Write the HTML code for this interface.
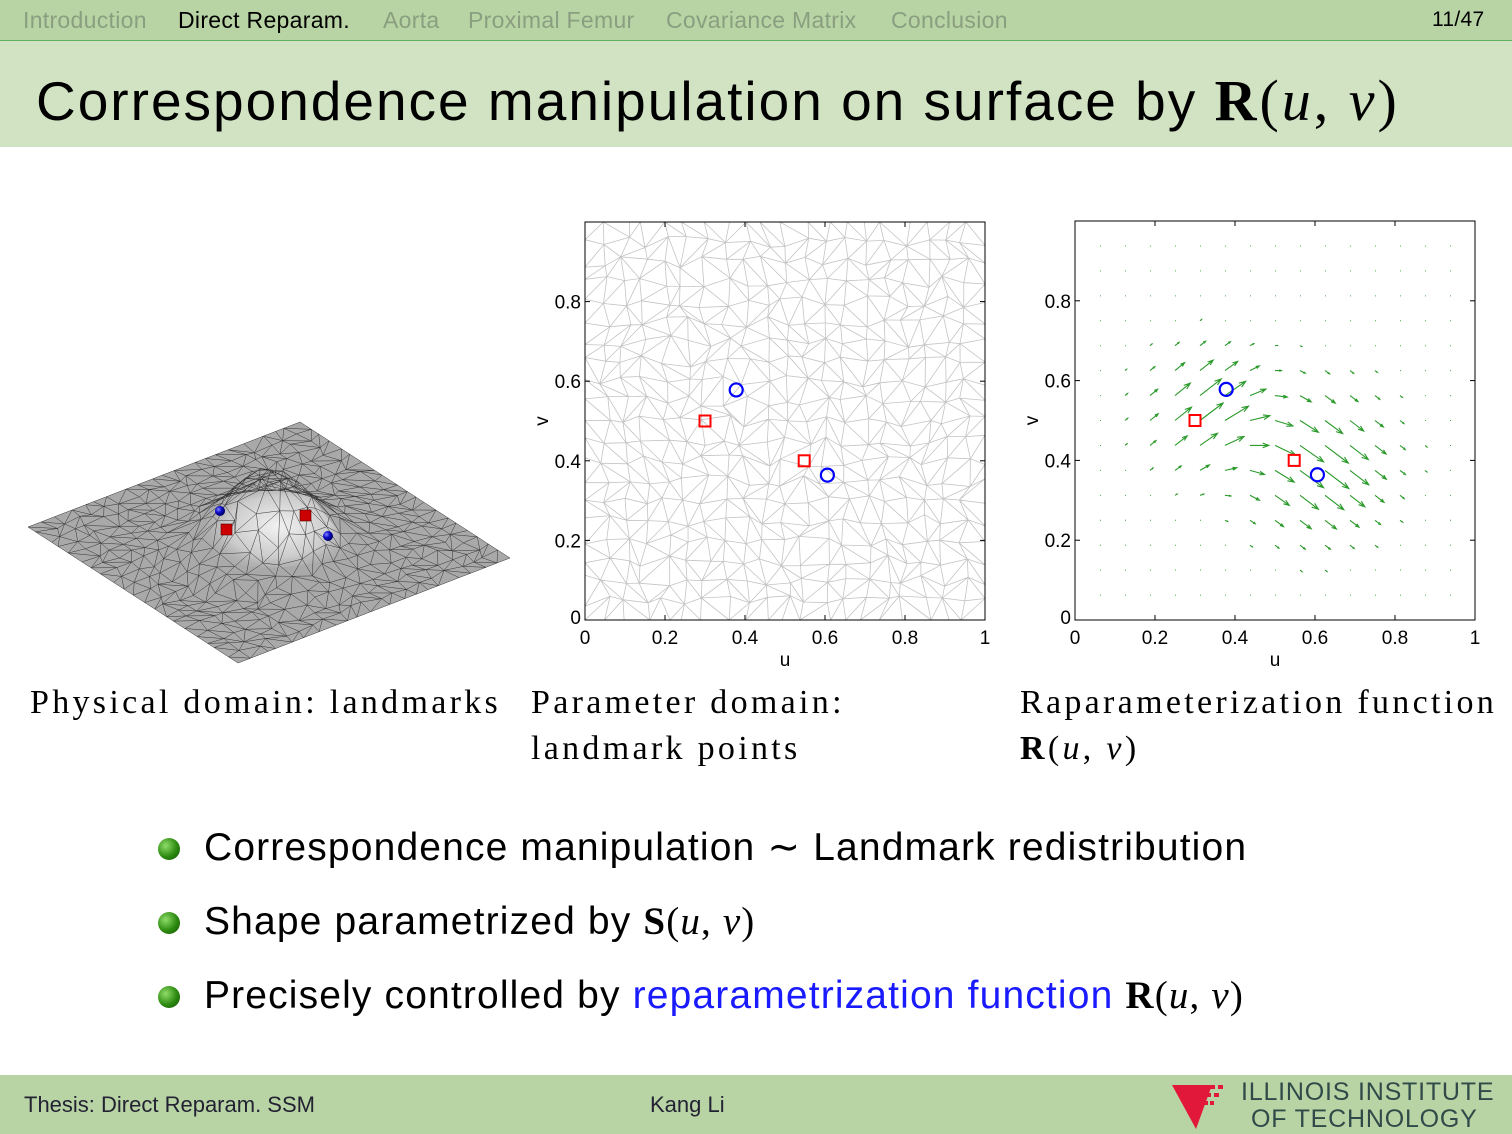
<!DOCTYPE html>
<html><head><meta charset="utf-8"><style>
body{margin:0;width:1512px;height:1134px;overflow:hidden;background:#fff;font-family:"Liberation Sans",sans-serif;position:relative}
.nav{position:absolute;left:0;top:0;width:1512px;height:40px;background:#b9d4a4;border-bottom:1px solid #5fb05f}
.nav span{position:absolute;top:7px;font-size:23px;color:#8a9e80;letter-spacing:0.3px}
.title{position:absolute;left:0;top:41px;width:1512px;height:106px;background:#d2e3c4}
.title div{position:absolute;left:36px;top:26px;font-size:55px;color:#000;letter-spacing:2.0px;white-space:nowrap}
.m{font-family:"Liberation Serif",serif}
.cap{position:absolute;font-family:"Liberation Serif",serif;font-size:34px;line-height:46px;color:#000;letter-spacing:3.3px;white-space:nowrap}
.b{position:absolute;left:204px;font-size:39px;color:#000;letter-spacing:1.15px;white-space:nowrap}
.dot{position:absolute;left:158px;width:22px;height:22px;border-radius:50%;background:radial-gradient(circle at 35% 35%,#8fdc6a,#2c8a10 55%,#145200)}
.foot{position:absolute;left:0;top:1075px;width:1512px;height:59px;background:#b9d4a4}
.foot span{position:absolute;font-size:22px;color:#223}
svg text{font-family:"Liberation Sans",sans-serif}
</style></head><body>
<div class="nav">
<span style="left:23px">Introduction</span><span style="left:178px;color:#000">Direct Reparam.</span><span style="left:383px">Aorta</span><span style="left:468px">Proximal Femur</span><span style="left:666px">Covariance Matrix</span><span style="left:891px">Conclusion</span><span style="left:1432px;color:#000;font-size:21px;top:8px">11/47</span>
</div>
<div class="title"><div>Correspondence manipulation on surface by <span class="m" style="font-size:58px;letter-spacing:3px"><b>R</b>(<i>u</i>, <i>v</i>)</span></div></div>

<svg id="s" width="1512" height="1134" style="position:absolute;left:0;top:0" xmlns="http://www.w3.org/2000/svg">
<defs>
<radialGradient id="bump" cx="0.55" cy="0.6" r="0.5"><stop offset="0" stop-color="#f2f2f2"/><stop offset="0.6" stop-color="#cccccc"/><stop offset="1" stop-color="#a8a8a8" stop-opacity="0"/></radialGradient>
<radialGradient id="ball" cx="0.35" cy="0.35" r="0.6"><stop offset="0" stop-color="#8888ff"/><stop offset="0.5" stop-color="#1010d0"/><stop offset="1" stop-color="#000070"/></radialGradient>
</defs>
<g id="surf"></g>
<g id="p2"></g>
<g id="p3"></g>
</svg>

<div class="cap" style="left:30px;top:680px">Physical domain: landmarks</div>
<div class="cap" style="left:531px;top:680px">Parameter domain:<br>landmark points</div>
<div class="cap" style="left:1020px;top:680px">Raparameterization function<br><b>R</b>(<i>u</i>, <i>v</i>)</div>

<div class="dot" style="top:838px"></div><div class="b" style="top:825px">Correspondence manipulation <span class="m">∼</span> Landmark redistribution</div>
<div class="dot" style="top:912px"></div><div class="b" style="top:899px">Shape parametrized by <span class="m"><b>S</b>(<i>u</i>, <i>v</i>)</span></div>
<div class="dot" style="top:986px"></div><div class="b" style="top:973px">Precisely controlled by <span style="color:#1a1aff">reparametrization function</span> <span class="m"><b>R</b>(<i>u</i>, <i>v</i>)</span></div>

<div class="foot">
<span style="left:24px;top:17px">Thesis: Direct Reparam. SSM</span>
<span style="left:650px;top:17px">Kang Li</span>
<svg style="position:absolute;left:1172px;top:8px" width="56" height="46"><polygon points="0,2 40,2 24,46" fill="#e2183a"/><g fill="#e2183a"><rect x="38" y="2" width="5" height="4"/><rect x="46" y="2" width="5" height="4"/><rect x="34" y="10" width="5" height="4"/><rect x="42" y="10" width="5" height="4"/><rect x="31" y="18" width="5" height="4"/><rect x="38" y="18" width="4" height="4"/></g></svg>
<span style="left:1241px;top:3px;font-size:25px;color:#2f4a48;letter-spacing:0.8px">ILLINOIS INSTITUTE</span>
<span style="left:1251px;top:30px;font-size:25px;color:#2f4a48;letter-spacing:0.8px">OF TECHNOLOGY</span>
</div>

<script>
var NS="http://www.w3.org/2000/svg";
function el(p,t,a){var e=document.createElementNS(NS,t);for(var k in a)e.setAttribute(k,a[k]);p.appendChild(e);return e;}
var seed=7;function rnd(){seed=(seed*16807)%2147483647;return seed/2147483647;}
var N=20,pts=[];
for(var i=0;i<=N;i++){pts[i]=[];for(var j=0;j<=N;j++){var u=i/N,v=j/N;
 if(i>0&&i<N)u+=(rnd()-.5)*0.03; if(j>0&&j<N)v+=(rnd()-.5)*0.03;
 pts[i][j]=[u,v];}}
var edges=[];
for(var i=0;i<=N;i++)for(var j=0;j<=N;j++){
 if(i<N)edges.push([pts[i][j],pts[i+1][j]]);
 if(j<N)edges.push([pts[i][j],pts[i][j+1]]);
 if(i<N&&j<N){if(rnd()<.5)edges.push([pts[i][j],pts[i+1][j+1]]);else edges.push([pts[i+1][j],pts[i][j+1]]);}}
var L=[28,527],T=[300,422],B=[238,663];
function P(u,v){var h=72*Math.exp(-((u-.5)*(u-.5)+(v-.5)*(v-.5))/0.03);
 return [L[0]+u*(T[0]-L[0])+v*(B[0]-L[0]), L[1]+u*(T[1]-L[1])+v*(B[1]-L[1])-h];}
var sg=document.getElementById('surf');
el(sg,'polygon',{points:"28,527 300,422 510,558 238,663",fill:"#a9a9a9"});
el(sg,'path',{d:"M185,545 C215,520 235,465 267,465 C300,465 320,520 355,545 C320,575 220,575 185,545Z",fill:"url(#bump)"});
var d="";edges.forEach(function(e){var a=P(e[0][0],e[0][1]),b=P(e[1][0],e[1][1]);d+="M"+a[0].toFixed(1)+","+a[1].toFixed(1)+"L"+b[0].toFixed(1)+","+b[1].toFixed(1);});
el(sg,'path',{d:d,stroke:"#333",'stroke-width':0.5,fill:"none"});
el(sg,'circle',{cx:220,cy:511,r:5,fill:"url(#ball)"});
el(sg,'circle',{cx:328,cy:536,r:5,fill:"url(#ball)"});
el(sg,'rect',{x:221,y:524,width:11,height:11,fill:"#c00",stroke:"#500",'stroke-width':0.6});
el(sg,'rect',{x:300,y:510,width:11,height:11,fill:"#c00",stroke:"#500",'stroke-width':0.6});
function plot(g,x0,y0,w,h){
 el(g,'rect',{x:x0,y:y0,width:w,height:h,fill:"none",stroke:"#000",'stroke-width':1});
 var ticks=[0,.2,.4,.6,.8,1];
 ticks.forEach(function(t){var x=x0+t*w,y=y0+h-t*h;
  el(g,'line',{x1:x,y1:y0+h,x2:x,y2:y0+h-5,stroke:"#000"});el(g,'line',{x1:x,y1:y0,x2:x,y2:y0+5,stroke:"#000"});
  el(g,'line',{x1:x0,y1:y,x2:x0+5,y2:y,stroke:"#000"});el(g,'line',{x1:x0+w,y1:y,x2:x0+w-5,y2:y,stroke:"#000"});
  var tx=el(g,'text',{x:x,y:y0+h+24,'font-size':19,'text-anchor':'middle'});tx.textContent=t===0?"0":(t===1?"1":t.toFixed(1));
  if(t>0&&t<1){var ty=el(g,'text',{x:x0-4,y:y+7,'font-size':19,'text-anchor':'end'});ty.textContent=t.toFixed(1);}
 });
 var z=el(g,'text',{x:x0-4,y:y0+h+4,'font-size':19,'text-anchor':'end'});z.textContent="0";
 var ul=el(g,'text',{x:x0+w/2,y:y0+h+46,'font-size':19,'text-anchor':'middle'});ul.textContent="u";
 var vl=el(g,'text',{x:x0-43,y:y0+h/2+6,'font-size':19,'text-anchor':'middle',transform:"rotate(-90 "+(x0-43)+" "+(y0+h/2)+")"});vl.textContent="v";
 return [function(u){return x0+u*w},function(v){return y0+h-v*h}];}
function marks(g,X,Y){
 el(g,'rect',{x:X(.3)-5.5,y:Y(.5)-5.5,width:11,height:11,fill:"none",stroke:"#f00",'stroke-width':2});
 el(g,'rect',{x:X(.548)-5.5,y:Y(.4)-5.5,width:11,height:11,fill:"none",stroke:"#f00",'stroke-width':2});
 el(g,'circle',{cx:X(.378),cy:Y(.578),r:6.5,fill:"none",stroke:"#00f",'stroke-width':2.2});
 el(g,'circle',{cx:X(.606),cy:Y(.364),r:6.5,fill:"none",stroke:"#00f",'stroke-width':2.2});}
var g2=document.getElementById('p2');var xy=plot(g2,585,222,400,398);
var d2="";edges.forEach(function(e){d2+="M"+xy[0](e[0][0]).toFixed(1)+","+xy[1](e[0][1]).toFixed(1)+"L"+xy[0](e[1][0]).toFixed(1)+","+xy[1](e[1][1]).toFixed(1);});
g2.insertBefore(el(g2,'path',{d:d2,stroke:"#c4c4c4",'stroke-width':0.8,fill:"none"}),g2.firstChild);
marks(g2,xy[0],xy[1]);
var g3=document.getElementById('p3');var xy3=plot(g3,1075,221,400,399);
var src=[[.33,.52,.06,.05,0.02],[.6,.4,.065,-.05,0.03]];
var d3="",dots="";
for(var a=1;a<16;a++)for(var b=1;b<16;b++){var u=a/16,v=b/16,du=0,dv=0;
 src.forEach(function(s){var wgt=Math.exp(-((u-s[0])*(u-s[0])+(v-s[1])*(v-s[1]))/s[4]);du+=s[2]*wgt;dv+=s[3]*wgt;});
 var sc=400*0.95;var x=xy3[0](u),y=xy3[1](v),ex=x+du*sc,ey=y-dv*sc;
 var len=Math.sqrt((ex-x)*(ex-x)+(ey-y)*(ey-y));
 if(len<2){dots+="M"+x+","+y+"h1";continue;}
 d3+="M"+x.toFixed(1)+","+y.toFixed(1)+"L"+ex.toFixed(1)+","+ey.toFixed(1);
 var ang=Math.atan2(ey-y,ex-x),hl=Math.min(7,len*0.35);
 d3+="M"+(ex-hl*Math.cos(ang-0.35)).toFixed(1)+","+(ey-hl*Math.sin(ang-0.35)).toFixed(1)+"L"+ex.toFixed(1)+","+ey.toFixed(1)+"L"+(ex-hl*Math.cos(ang+0.35)).toFixed(1)+","+(ey-hl*Math.sin(ang+0.35)).toFixed(1);}
el(g3,'path',{d:d3,stroke:"#2a9a2a",'stroke-width':1.1,fill:"none"});
el(g3,'path',{d:dots,stroke:"#4a4",'stroke-width':1,fill:"none"});
marks(g3,xy3[0],xy3[1]);
</script>
</body></html>
